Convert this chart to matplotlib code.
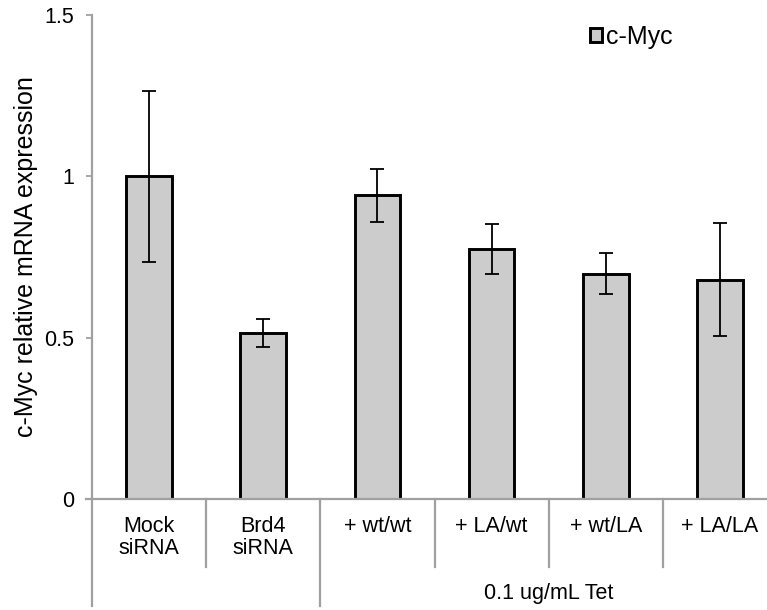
import matplotlib
matplotlib.use("Agg")
import matplotlib.pyplot as plt
from matplotlib.patches import Patch

plt.rcParams['font.family'] = ['Liberation Sans', 'DejaVu Sans']

categories = ["Mock\nsiRNA", "Brd4\nsiRNA", "+ wt/wt", "+ LA/wt", "+ wt/LA", "+ LA/LA"]
values = [1.0, 0.515, 0.942, 0.775, 0.698, 0.679]
errors = [0.265, 0.044, 0.082, 0.077, 0.064, 0.175]
group_label = "0.1 ug/mL Tet"
group_span = (2, 5)  # categories covered by the group label
yticks = [0, 0.5, 1, 1.5]
yticklabels = ["0", "0.5", "1", "1.5"]
series_name = "c-Myc"
ylabel = "c-Myc relative mRNA expression"

W, H = 767, 610
fig = plt.figure(figsize=(W / 100, H / 100), dpi=100)
ax_left, ax_right, ax_top, ax_bottom = 92, 777, 15, 499
ax = fig.add_axes([ax_left / W, (H - ax_bottom) / H, (ax_right - ax_left) / W, (ax_bottom - ax_top) / H])

gray = "#a0a0a0"
x = list(range(len(categories)))
ax.bar(x, values, width=0.4, color="#cccccc", edgecolor="black", linewidth=2.1, zorder=2)
ax.errorbar(x, values, yerr=errors, fmt="none", ecolor="black", elinewidth=1.3,
            capsize=5, capthick=1.3, zorder=3)

ax.set_xlim(-0.5, len(categories) - 0.5)
ax.set_ylim(0, 1.5)
ax.set_yticks(yticks)
ax.set_yticklabels(yticklabels, fontsize=15.5)
ax.tick_params(axis="y", direction="out", length=4, width=1.3, color=gray, pad=9)
ax.set_xticks([])
for s in ["top", "right"]:
    ax.spines[s].set_visible(False)
for s in ["left", "bottom"]:
    ax.spines[s].set_color(gray)
    ax.spines[s].set_linewidth(1.6)

fig.text(26 / W, 1 - 257 / H, ylabel, rotation=90, ha="center", va="center", fontsize=18)

# multi-level category axis
axh = ax_bottom - ax_top
tr = ax.get_xaxis_transform()
inner_end = -(567 - ax_bottom) / axh
outer_end = -(606 - ax_bottom) / axh
for i in range(len(categories) + 1):
    xb = i - 0.5
    outer = xb in (-0.5, group_span[0] - 0.5, group_span[1] + 0.5)
    ax.plot([xb, xb], [0, outer_end if outer else inner_end], color=gray, lw=1.6,
            transform=tr, clip_on=False)
# small left extension of x axis
ax.plot([-0.5 - 6 / 114.3, -0.5], [0, 0], color=gray, lw=1.6, clip_on=False)

for i, c in enumerate(categories):
    ax.text(i, -(516 - ax_bottom) / axh, c, ha="center", va="top", fontsize=15.5,
            linespacing=1.05, transform=tr)
ax.text((group_span[0] + group_span[1]) / 2, -(594 - ax_bottom) / axh, group_label,
        ha="center", va="center", fontsize=15.5, transform=tr)

handle = Patch(facecolor="#cccccc", edgecolor="black", linewidth=2.1)
leg = fig.legend([handle], [series_name], loc="center left",
                 bbox_to_anchor=(577 / W, 1 - 37 / H), frameon=False, fontsize=18,
                 handlelength=0.5, handleheight=0.5, handletextpad=0.15, borderpad=0)

fig.savefig("out.png", dpi=100)
